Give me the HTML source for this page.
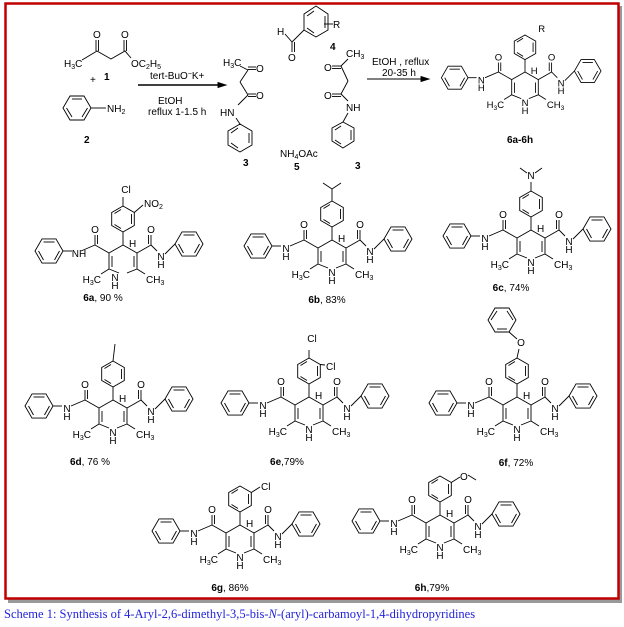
<!DOCTYPE html>
<html><head><meta charset="utf-8"><style>
body{margin:0;background:#fff;width:624px;height:627px;overflow:hidden}
svg{display:block}
text{font-family:"Liberation Sans",sans-serif;font-size:10px;fill:#000}
.b{font-weight:bold}
.cap{font-family:"Liberation Serif",serif;font-size:12.5px;fill:#2222dd}
line,polyline,polygon,path{stroke:#000;stroke-width:0.9;fill:none}
</style></head><body>
<svg width="624" height="627" viewBox="0 0 624 627">
<rect x="8" y="6" width="614" height="597" fill="#999" stroke="none"/>
<rect x="5.5" y="3.5" width="613" height="595" fill="#fff" style="stroke:#c00000;stroke-width:2.5"/>
<text class="cap" x="4" y="618">Scheme 1: Synthesis of 4-Aryl-2,6-dimethyl-3,5-bis-<tspan font-style="italic">N</tspan>-(aryl)-carbamoyl-1,4-dihydropyridines</text>

<defs>
<g id="core">
<polygon points="-60,6 -67,-6.1 -81,-6.1 -88,6 -81,18.1 -67,18.1"/>
<line x1="-68.5" y1="-3" x2="-79.5" y2="-3"/><line x1="-84.5" y1="6" x2="-79.5" y2="15"/><line x1="-63.5" y1="6" x2="-68.5" y2="15"/>
<polygon points="52,-1 59,-13.1 73,-13.1 80,-1 73,11.1 59,11.1"/>
<line x1="60.5" y1="-10" x2="71.5" y2="-10"/><line x1="76.5" y1="-1" x2="71.5" y2="8"/><line x1="55.5" y1="-1" x2="60.5" y2="8"/>
<line x1="-51" y1="6" x2="-60" y2="6"/><line x1="42" y1="9" x2="52" y2="-1"/>
<line x1="-28" y1="0" x2="-42" y2="6"/><line x1="-28" y1="0" x2="-14" y2="8"/>
<line x1="-28" y1="0" x2="-28" y2="-10"/><line x1="-25.5" y1="-1" x2="-25.5" y2="-10"/>
<line x1="28" y1="0" x2="34" y2="6"/><line x1="28" y1="0" x2="14" y2="8"/>
<line x1="28" y1="0" x2="28" y2="-10"/><line x1="25.5" y1="-1" x2="25.5" y2="-10"/>
<polyline points="-4,28 -14,24 -14,8 0,0 14,8 14,24 4,28"/>
<line x1="11" y1="11" x2="11" y2="22"/><line x1="-11" y1="11" x2="-11" y2="22"/>
<line x1="-14" y1="24" x2="-22" y2="29"/><line x1="14" y1="24" x2="22" y2="29"/>
<line x1="0" y1="0" x2="0" y2="-13"/>
<polygon points="0,-13 11.3,-19.5 11.3,-32.5 0,-39 -11.3,-32.5 -11.3,-19.5"/>
<line x1="8.5" y1="-21" x2="8.5" y2="-31"/><line x1="-2" y1="-35.5" x2="-8.5" y2="-31.5"/><line x1="-2" y1="-16.5" x2="-8.5" y2="-20.5"/>
</g>
</defs>

<!-- reactant 1 -->
<polyline points="82,60 97,51 111,59 125,51 131,58"/>
<line x1="96" y1="51" x2="96" y2="40"/><line x1="98.5" y1="51" x2="98.5" y2="40"/>
<line x1="124" y1="51" x2="124" y2="40"/><line x1="126.5" y1="51" x2="126.5" y2="40"/>
<text x="93" y="38">O</text><text x="121" y="38">O</text>
<text x="64" y="67">H<tspan font-size="7" dy="2">3</tspan><tspan dy="-2">C</tspan></text>
<text x="131" y="67">OC<tspan font-size="7" dy="2">2</tspan><tspan dy="-2">H</tspan><tspan font-size="7" dy="2">5</tspan></text>
<text class="b" x="104" y="80">1</text><text x="90" y="83">+</text>
<!-- aniline -->
<polygon points="91,108 84,96 70,96 63,108 70,120 84,120"/>
<line x1="72" y1="99" x2="82" y2="99"/><line x1="66.5" y1="108" x2="72" y2="117"/><line x1="82" y1="117" x2="87.5" y2="108"/>
<line x1="91" y1="108" x2="106" y2="108"/><text x="107" y="112">NH<tspan font-size="7" dy="2">2</tspan></text>
<text class="b" x="84" y="143">2</text>
<line x1="138" y1="85" x2="220" y2="85" style="stroke-width:1.6"/><polygon points="226,85 218,82.5 218,87.5" style="fill:#000"/>
<text x="150" y="79">tert-BuO<tspan font-size="7" dy="-3">−</tspan><tspan dy="3">K+</tspan></text>
<text x="158" y="104">EtOH</text><text x="148" y="115">reflux 1-1.5 h</text>
<!-- 3 left -->
<text x="223" y="66">H<tspan font-size="7" dy="2">3</tspan><tspan dy="-2">C</tspan></text>
<line x1="240" y1="66" x2="248" y2="70"/><line x1="248" y1="70" x2="240" y2="82"/>
<line x1="248" y1="67" x2="256" y2="67"/><line x1="248" y1="69.5" x2="256" y2="69.5"/><text x="256" y="72">O</text>
<line x1="240" y1="82" x2="248" y2="95"/>
<line x1="248" y1="94" x2="256" y2="94"/><line x1="248" y1="96.5" x2="256" y2="96.5"/><text x="256" y="99">O</text>
<line x1="248" y1="95" x2="238" y2="105"/><text x="220" y="116">HN</text>
<line x1="236" y1="118" x2="240" y2="124"/>
<polygon points="240,124 252,131 252,145 240,152 228,145 228,131"/><line x1="249" y1="133" x2="249" y2="143"/><line x1="231" y1="133" x2="238" y2="128"/><line x1="238" y1="148" x2="231" y2="143"/>
<text class="b" x="243" y="166">3</text>
<!-- 4 -->
<text x="277" y="35">H</text><line x1="285" y1="34" x2="292" y2="42"/>
<line x1="292" y1="42" x2="292" y2="52"/><line x1="294.5" y1="42" x2="294.5" y2="52"/><text x="288" y="61">O</text>
<line x1="292" y1="42" x2="304" y2="30"/>
<polygon points="304,30 304,14 316,6 328,14 328,30 316,37"/><line x1="307" y1="16" x2="314" y2="11"/><line x1="325" y1="16" x2="325" y2="28"/><line x1="314" y1="33" x2="307" y2="28"/>
<line x1="324" y1="24" x2="333" y2="24"/><text x="333" y="28">R</text>
<text class="b" x="330" y="50">4</text>
<!-- 3 right -->
<text x="346" y="57">CH<tspan font-size="7" dy="2">3</tspan></text>
<line x1="348" y1="59" x2="341" y2="66"/>
<line x1="332" y1="66" x2="341" y2="66"/><line x1="332" y1="68.5" x2="341" y2="68.5"/><text x="324" y="71">O</text>
<line x1="341" y1="66" x2="348" y2="81"/><line x1="348" y1="81" x2="341" y2="94"/>
<line x1="332" y1="94" x2="341" y2="94"/><line x1="332" y1="96.5" x2="341" y2="96.5"/><text x="324" y="99">O</text>
<line x1="341" y1="94" x2="348" y2="101"/><text x="346" y="111">NH</text>
<line x1="348" y1="113" x2="343" y2="122"/>
<polygon points="343,122 354,128 354,141 343,148 332,141 332,128"/><line x1="351" y1="130" x2="351" y2="140"/><line x1="335" y1="130" x2="341" y2="126"/><line x1="341" y1="144" x2="335" y2="140"/>
<text class="b" x="355" y="169">3</text>
<text x="280" y="157">NH<tspan font-size="7" dy="2">4</tspan><tspan dy="-2">OAc</tspan></text>
<text class="b" x="294" y="170">5</text>
<line x1="367" y1="79" x2="422" y2="79"/><polygon points="429,79 421,76.5 421,81.5" style="fill:#000"/>
<text x="372" y="65">EtOH , reflux</text><text x="382" y="76">20-35 h</text>

<!-- top product -->
<g transform="translate(525,72) scale(0.95)"><use href="#core"/>
<text x="-46" y="12" text-anchor="middle">N</text><text x="-46" y="20" text-anchor="middle">H</text>
<text x="38" y="15" text-anchor="middle">N</text><text x="38" y="23" text-anchor="middle">H</text>
<text x="-28" y="-12" text-anchor="middle">O</text><text x="28" y="-12" text-anchor="middle">O</text>
<text x="0" y="36" text-anchor="middle">N</text><text x="0" y="44" text-anchor="middle">H</text>
<text x="-22" y="38" text-anchor="end">H<tspan font-size="7" dy="2">3</tspan><tspan dy="-2">C</tspan></text>
<text x="23" y="38">CH<tspan font-size="7" dy="2">3</tspan></text>
<text x="6" y="2">H</text><text x="14" y="-42">R</text></g>
<text class="b" x="520" y="143" text-anchor="middle">6a-6h</text>

<!-- 6a -->
<g transform="translate(123,245)"><use href="#core"/>
<text x="-44" y="12" text-anchor="middle">NH</text>
<text x="38" y="15" text-anchor="middle">N</text><text x="38" y="23" text-anchor="middle">H</text>
<text x="-28" y="-12" text-anchor="middle">O</text><text x="28" y="-12" text-anchor="middle">O</text>
<text x="-8" y="36" text-anchor="middle">N</text><text x="-8" y="44" text-anchor="middle">H</text>
<text x="-22" y="38" text-anchor="end">H<tspan font-size="7" dy="2">3</tspan><tspan dy="-2">C</tspan></text>
<text x="23" y="38">CH<tspan font-size="7" dy="2">3</tspan></text><text x="6" y="2">H</text>
<line x1="0" y1="-39" x2="0" y2="-48"/><text x="3" y="-52" text-anchor="middle">Cl</text>
<line x1="11.3" y1="-32.5" x2="20" y2="-40"/><text x="21" y="-38">NO<tspan font-size="7" dy="2">2</tspan></text></g>
<text x="103" y="301" text-anchor="middle"><tspan class="b">6a</tspan>, 90 %</text>

<!-- 6b -->
<g transform="translate(332,240)"><use href="#core"/>
<text x="-46" y="12" text-anchor="middle">N</text><text x="-46" y="20" text-anchor="middle">H</text>
<text x="38" y="15" text-anchor="middle">N</text><text x="38" y="23" text-anchor="middle">H</text>
<text x="-28" y="-12" text-anchor="middle">O</text><text x="28" y="-12" text-anchor="middle">O</text>
<text x="0" y="36" text-anchor="middle">N</text><text x="0" y="44" text-anchor="middle">H</text>
<text x="-22" y="38" text-anchor="end">H<tspan font-size="7" dy="2">3</tspan><tspan dy="-2">C</tspan></text>
<text x="23" y="38">CH<tspan font-size="7" dy="2">3</tspan></text><text x="6" y="2">H</text>
<polyline points="-9,-57 0,-51 9,-57"/><line x1="0" y1="-39" x2="0" y2="-51"/></g>
<text x="327" y="303" text-anchor="middle"><tspan class="b">6b</tspan>, 83%</text>

<!-- 6c -->
<g transform="translate(531,230)"><use href="#core"/>
<text x="-46" y="12" text-anchor="middle">N</text><text x="-46" y="20" text-anchor="middle">H</text>
<text x="38" y="15" text-anchor="middle">N</text><text x="38" y="23" text-anchor="middle">H</text>
<text x="-28" y="-12" text-anchor="middle">O</text><text x="28" y="-12" text-anchor="middle">O</text>
<text x="0" y="36" text-anchor="middle">N</text><text x="0" y="44" text-anchor="middle">H</text>
<text x="-22" y="38" text-anchor="end">H<tspan font-size="7" dy="2">3</tspan><tspan dy="-2">C</tspan></text>
<text x="23" y="38">CH<tspan font-size="7" dy="2">3</tspan></text><text x="6" y="2">H</text>
<line x1="0" y1="-39" x2="0" y2="-48"/><text x="0" y="-51" text-anchor="middle">N</text>
<line x1="-4" y1="-57" x2="-11" y2="-62"/><line x1="4" y1="-57" x2="11" y2="-62"/></g>
<text x="511" y="291" text-anchor="middle"><tspan class="b">6c</tspan>, 74%</text>

<!-- 6d -->
<g transform="translate(113,400)"><use href="#core"/>
<text x="-46" y="12" text-anchor="middle">N</text><text x="-46" y="20" text-anchor="middle">H</text>
<text x="38" y="15" text-anchor="middle">N</text><text x="38" y="23" text-anchor="middle">H</text>
<text x="-28" y="-12" text-anchor="middle">O</text><text x="28" y="-12" text-anchor="middle">O</text>
<text x="0" y="36" text-anchor="middle">N</text><text x="0" y="44" text-anchor="middle">H</text>
<text x="-22" y="38" text-anchor="end">H<tspan font-size="7" dy="2">3</tspan><tspan dy="-2">C</tspan></text>
<text x="23" y="38">CH<tspan font-size="7" dy="2">3</tspan></text><text x="6" y="2">H</text>
<line x1="0" y1="-39" x2="2" y2="-56"/></g>
<text x="90" y="465" text-anchor="middle"><tspan class="b">6d</tspan>, 76 %</text>

<!-- 6e -->
<g transform="translate(309,397)"><use href="#core"/>
<text x="-46" y="12" text-anchor="middle">N</text><text x="-46" y="20" text-anchor="middle">H</text>
<text x="38" y="15" text-anchor="middle">N</text><text x="38" y="23" text-anchor="middle">H</text>
<text x="-28" y="-12" text-anchor="middle">O</text><text x="28" y="-12" text-anchor="middle">O</text>
<text x="0" y="36" text-anchor="middle">N</text><text x="0" y="44" text-anchor="middle">H</text>
<text x="-22" y="38" text-anchor="end">H<tspan font-size="7" dy="2">3</tspan><tspan dy="-2">C</tspan></text>
<text x="23" y="38">CH<tspan font-size="7" dy="2">3</tspan></text><text x="6" y="2">H</text>
<line x1="0" y1="-39" x2="0" y2="-47"/><text x="3" y="-55" text-anchor="middle">Cl</text>
<line x1="11.3" y1="-32.5" x2="16" y2="-32"/><text x="17" y="-27">Cl</text></g>
<text x="287" y="465" text-anchor="middle"><tspan class="b">6e</tspan>,79%</text>

<!-- 6f -->
<g transform="translate(517,397)"><use href="#core"/>
<text x="-46" y="12" text-anchor="middle">N</text><text x="-46" y="20" text-anchor="middle">H</text>
<text x="38" y="15" text-anchor="middle">N</text><text x="38" y="23" text-anchor="middle">H</text>
<text x="-28" y="-12" text-anchor="middle">O</text><text x="28" y="-12" text-anchor="middle">O</text>
<text x="0" y="36" text-anchor="middle">N</text><text x="0" y="44" text-anchor="middle">H</text>
<text x="-22" y="38" text-anchor="end">H<tspan font-size="7" dy="2">3</tspan><tspan dy="-2">C</tspan></text>
<text x="23" y="38">CH<tspan font-size="7" dy="2">3</tspan></text><text x="6" y="2">H</text>
<line x1="0" y1="-39" x2="2" y2="-48"/><text x="4" y="-51" text-anchor="middle">O</text>
<line x1="0" y1="-58" x2="-8" y2="-65"/>
<polygon points="-8,-65 -22,-65 -29,-77 -22,-89 -8,-89 -1,-77"/><line x1="-10" y1="-68" x2="-20" y2="-68"/><line x1="-26" y1="-77" x2="-20" y2="-86"/><line x1="-10" y1="-86" x2="-4" y2="-77"/></g>
<text x="516" y="466" text-anchor="middle"><tspan class="b">6f</tspan>, 72%</text>

<!-- 6g -->
<g transform="translate(240,525)"><use href="#core"/>
<text x="-46" y="12" text-anchor="middle">N</text><text x="-46" y="20" text-anchor="middle">H</text>
<text x="38" y="15" text-anchor="middle">N</text><text x="38" y="23" text-anchor="middle">H</text>
<text x="-28" y="-12" text-anchor="middle">O</text><text x="28" y="-12" text-anchor="middle">O</text>
<text x="0" y="36" text-anchor="middle">N</text><text x="0" y="44" text-anchor="middle">H</text>
<text x="-22" y="38" text-anchor="end">H<tspan font-size="7" dy="2">3</tspan><tspan dy="-2">C</tspan></text>
<text x="23" y="38">CH<tspan font-size="7" dy="2">3</tspan></text><text x="6" y="2">H</text>
<line x1="11.3" y1="-32.5" x2="20" y2="-38"/><text x="21" y="-35">Cl</text></g>
<text x="230" y="591" text-anchor="middle"><tspan class="b">6g</tspan>, 86%</text>

<!-- 6h -->
<g transform="translate(440,515)"><use href="#core"/>
<text x="-46" y="12" text-anchor="middle">N</text><text x="-46" y="20" text-anchor="middle">H</text>
<text x="38" y="15" text-anchor="middle">N</text><text x="38" y="23" text-anchor="middle">H</text>
<text x="-28" y="-12" text-anchor="middle">O</text><text x="28" y="-12" text-anchor="middle">O</text>
<text x="0" y="36" text-anchor="middle">N</text><text x="0" y="44" text-anchor="middle">H</text>
<text x="-22" y="38" text-anchor="end">H<tspan font-size="7" dy="2">3</tspan><tspan dy="-2">C</tspan></text>
<text x="23" y="38">CH<tspan font-size="7" dy="2">3</tspan></text><text x="6" y="2">H</text>
<line x1="11.3" y1="-32.5" x2="20" y2="-38"/><text x="20" y="-35">O</text><line x1="28" y1="-40" x2="36" y2="-35"/></g>
<text x="432" y="591" text-anchor="middle"><tspan class="b">6h</tspan>,79%</text>
</svg>
</body></html>
